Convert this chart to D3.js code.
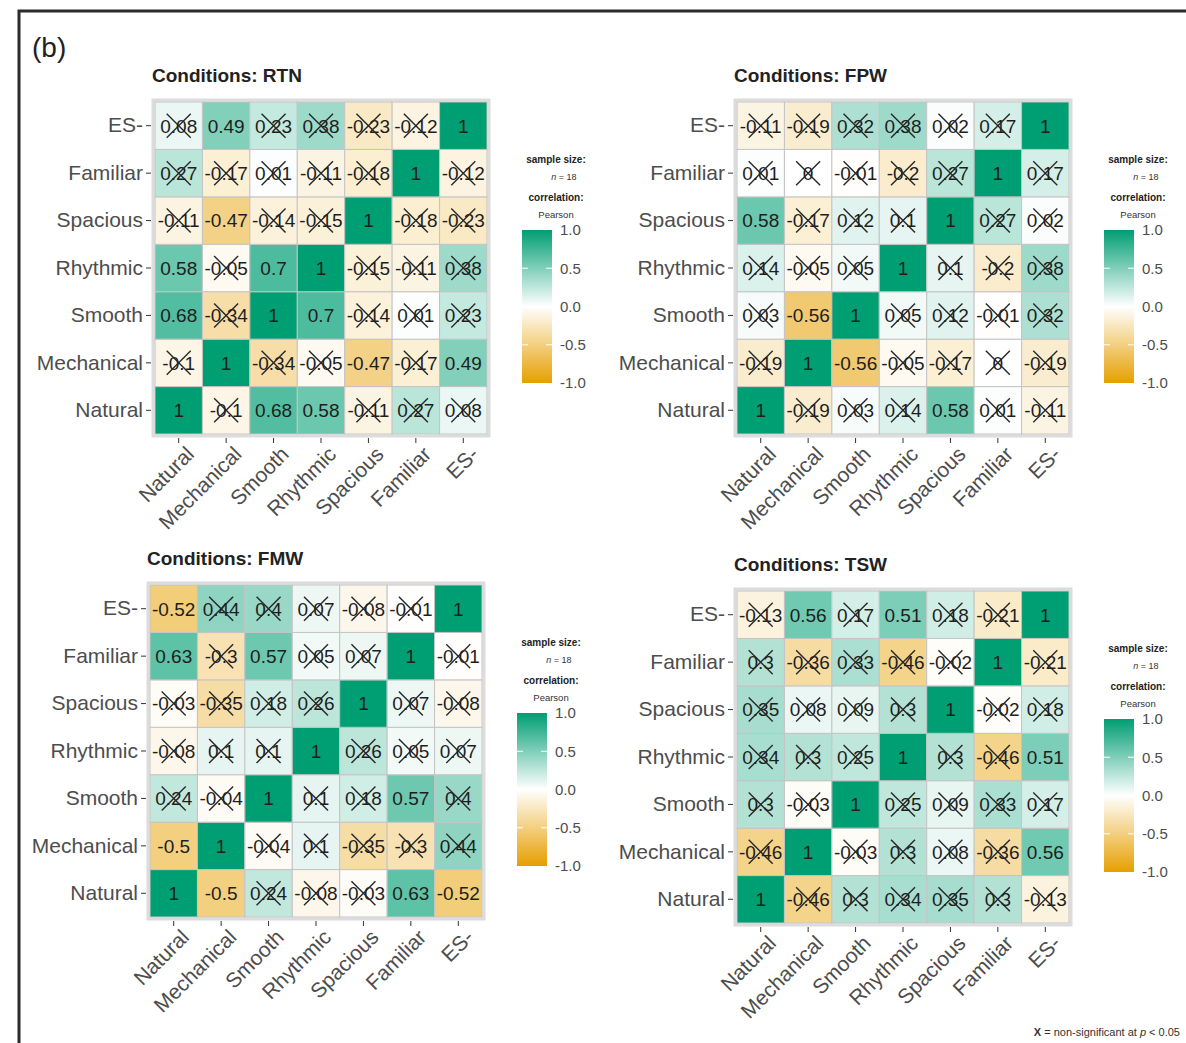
<!DOCTYPE html>
<html>
<head>
<meta charset="utf-8">
<script src="https://cdn.jsdelivr.net/npm/d3@7"></script>
<style>
body { margin: 0; background: #fff; }
text { font-family: "Liberation Sans", Arial, sans-serif; }
</style>
</head>
<body>
<div id="chart"></div>
<script>
// data
const variables = ["Natural", "Mechanical", "Smooth", "Rhythmic", "Spacious", "Familiar", "ES-"]
const conditions = ["RTN", "FPW", "FMW", "TSW"]
const sampleSize = 18
const legendTicks = [1, 0.5, 0, -0.5, -1]

// correlation matrices, rows/cols in the order of `variables`
const rtn = [
  [1, -0.1, 0.68, 0.58, -0.11, 0.27, 0.08],
  [-0.1, 1, -0.34, -0.05, -0.47, -0.17, 0.49],
  [0.68, -0.34, 1, 0.7, -0.14, 0.01, 0.23],
  [0.58, -0.05, 0.7, 1, -0.15, -0.11, 0.38],
  [-0.11, -0.47, -0.14, -0.15, 1, -0.18, -0.23],
  [0.27, -0.17, 0.01, -0.11, -0.18, 1, -0.12],
  [0.08, 0.49, 0.23, 0.38, -0.23, -0.12, 1]
]
const fpw = [
  [1, -0.19, 0.03, 0.14, 0.58, 0.01, -0.11],
  [-0.19, 1, -0.56, -0.05, -0.17, 0, -0.19],
  [0.03, -0.56, 1, 0.05, 0.12, -0.01, 0.32],
  [0.14, -0.05, 0.05, 1, 0.1, -0.2, 0.38],
  [0.58, -0.17, 0.12, 0.1, 1, 0.27, 0.02],
  [0.01, 0, -0.01, -0.2, 0.27, 1, 0.17],
  [-0.11, -0.19, 0.32, 0.38, 0.02, 0.17, 1]
]
const fmw = [
  [1, -0.5, 0.24, -0.08, -0.03, 0.63, -0.52],
  [-0.5, 1, -0.04, 0.1, -0.35, -0.3, 0.44],
  [0.24, -0.04, 1, 0.1, 0.18, 0.57, 0.4],
  [-0.08, 0.1, 0.1, 1, 0.26, 0.05, 0.07],
  [-0.03, -0.35, 0.18, 0.26, 1, 0.07, -0.08],
  [0.63, -0.3, 0.57, 0.05, 0.07, 1, -0.01],
  [-0.52, 0.44, 0.4, 0.07, -0.08, -0.01, 1]
]
const tsw = [
  [1, -0.46, 0.3, 0.34, 0.35, 0.3, -0.13],
  [-0.46, 1, -0.03, 0.3, 0.08, -0.36, 0.56],
  [0.3, -0.03, 1, 0.25, 0.09, 0.33, 0.17],
  [0.34, 0.3, 0.25, 1, 0.3, -0.46, 0.51],
  [0.35, 0.08, 0.09, 0.3, 1, -0.02, 0.18],
  [0.3, -0.36, 0.33, -0.46, -0.02, 1, -0.21],
  [-0.13, 0.56, 0.17, 0.51, 0.18, -0.21, 1]
]
const matrices = [rtn, fpw, fmw, tsw]

// layout
const width = 1186
const height = 1043
const size = 332
const positions = [
  {left: 155, top: 102},
  {left: 737, top: 102},
  {left: 150, top: 585},
  {left: 737, top: 591}
]

const tCrit = 2.12 // two-tailed, df = 16, p = .05
const isSignificant = r => Math.abs(r) >= 1 ||
  Math.abs(r) * Math.sqrt((sampleSize - 2) / (1 - r * r)) >= tCrit
const fmt = r => String(Math.round(r * 100) / 100)

const color = d3.scaleLinear()
  .domain([-1, 0, 1])
  .range(["#E69F00", "#ffffff", "#009E73"])

const svg = d3.select("#chart")
  .append("svg")
    .attr("width", width)
    .attr("height", height)

// gradient for the colour bars
const grad = svg.append("defs").append("linearGradient")
  .attr("id", "corrGrad")
  .attr("x1", 0).attr("y1", 0).attr("x2", 0).attr("y2", 1)
legendTicks.forEach(v => {
  grad.append("stop")
    .attr("offset", (1 - v) / 2)
    .attr("stop-color", color(v))
})

// outer frame
svg.append("path")
  .attr("d", `M19,${height + 5} L19,11 L${width + 5},11`)
  .attr("fill", "none")
  .attr("stroke", "#2b2b2b")
  .attr("stroke-width", 3)

svg.append("text")
  .attr("x", 32).attr("y", 57)
  .attr("font-size", 28)
  .attr("fill", "#222")
  .text("(b)")

const x = d3.scaleBand().domain(variables).range([0, size])
const y = d3.scaleBand().domain(variables).range([size, 0])
const legendY = d3.scaleLinear().domain([-1, 1]).range([153, 0])

conditions.forEach((cond, k) => {
  const pos = positions[k]
  const values = matrices[k]
  const g = svg.append("g")
    .attr("transform", `translate(${pos.left}, ${pos.top})`)

  g.append("text")
    .attr("x", -3).attr("y", -20)
    .attr("font-size", 19)
    .attr("font-weight", "bold")
    .attr("fill", "#222")
    .text("Conditions: " + cond)

  const cells = []
  values.forEach((row, i) => row.forEach((r, j) => {
    cells.push({rowVar: variables[i], colVar: variables[j], r: r})
  }))

  g.append("rect")
    .attr("x", -2).attr("y", -2)
    .attr("width", size + 4).attr("height", size + 4)
    .attr("fill", "none")
    .attr("stroke", "#dcdcdc")
    .attr("stroke-width", 3)

  g.selectAll(".cell")
    .data(cells)
    .join("rect")
      .attr("class", "cell")
      .attr("x", d => x(d.colVar))
      .attr("y", d => y(d.rowVar))
      .attr("width", x.bandwidth())
      .attr("height", y.bandwidth())
      .attr("fill", d => color(d.r))
      .attr("stroke", "#c4c4c4")
      .attr("stroke-width", 1)

  g.selectAll(".lab")
    .data(cells)
    .join("text")
      .attr("class", "lab")
      .attr("x", d => x(d.colVar) + x.bandwidth() / 2)
      .attr("y", d => y(d.rowVar) + y.bandwidth() / 2)
      .attr("dy", "0.36em")
      .attr("text-anchor", "middle")
      .attr("font-size", 19)
      .attr("fill", "#1e1e1e")
      .text(d => fmt(d.r))

  const ns = cells.filter(d => !isSignificant(d.r))
  const crosses = g.selectAll(".ns")
    .data(ns)
    .join("g")
      .attr("class", "ns")
      .attr("transform", d => `translate(${x(d.colVar) + x.bandwidth() / 2}, ${y(d.rowVar) + y.bandwidth() / 2})`)
  crosses.append("line")
    .attr("x1", -12).attr("y1", -12).attr("x2", 12).attr("y2", 12)
  crosses.append("line")
    .attr("x1", -12).attr("y1", 12).attr("x2", 12).attr("y2", -12)
  crosses.selectAll("line")
    .attr("stroke", "#262626")
    .attr("stroke-width", 1.4)

  // axes
  const yAxisGroup = g.append("g")
    .attr("transform", "translate(-4, 0)")
    .call(d3.axisLeft(y).tickSize(5).tickPadding(3))
  const xAxisGroup = g.append("g")
    .attr("transform", `translate(0, ${size + 4})`)
    .call(d3.axisBottom(x).tickSize(5))
  ;[yAxisGroup, xAxisGroup].forEach(ax => {
    ax.select(".domain").remove()
    ax.selectAll(".tick line").attr("stroke", "#333")
    ax.selectAll("text")
      .attr("font-size", 21)
      .attr("fill", "#4d4d4d")
  })
  xAxisGroup.selectAll("text")
    .attr("x", 0).attr("y", 0)
    .attr("dy", "0.71em")
    .attr("text-anchor", "end")
    .attr("transform", "translate(6, 7) rotate(-45)")

  // legend
  const lg = g.append("g").attr("transform", `translate(${size + 35}, 0)`)
  const cx = 34
  lg.append("text").attr("x", cx).attr("y", 61)
    .attr("text-anchor", "middle").attr("font-size", 10).attr("font-weight", "bold")
    .attr("fill", "#222").text("sample size:")
  const nText = lg.append("text").attr("x", cx + 8).attr("y", 78)
    .attr("text-anchor", "middle").attr("font-size", 9).attr("fill", "#333")
  nText.append("tspan").attr("font-style", "italic").text("n")
  nText.append("tspan").text(" = " + sampleSize)
  lg.append("text").attr("x", cx).attr("y", 99)
    .attr("text-anchor", "middle").attr("font-size", 10).attr("font-weight", "bold")
    .attr("fill", "#222").text("correlation:")
  lg.append("text").attr("x", cx).attr("y", 116)
    .attr("text-anchor", "middle").attr("font-size", 9.5)
    .attr("fill", "#333").text("Pearson")

  const bar = lg.append("g").attr("transform", "translate(0, 128)")
  bar.append("rect")
    .attr("width", 30).attr("height", 153)
    .attr("fill", "url(#corrGrad)")
  bar.selectAll(".tk")
    .data(legendTicks)
    .join("g")
      .attr("class", "tk")
      .each(function (v) {
        const t = d3.select(this)
        if (v !== 1 && v !== -1) {
          t.append("line").attr("x1", 0).attr("x2", 6)
            .attr("y1", legendY(v)).attr("y2", legendY(v))
            .attr("stroke", "#fff").attr("stroke-width", 1)
          t.append("line").attr("x1", 24).attr("x2", 30)
            .attr("y1", legendY(v)).attr("y2", legendY(v))
            .attr("stroke", "#fff").attr("stroke-width", 1)
        }
        t.append("text")
          .attr("x", 38).attr("y", legendY(v))
          .attr("dy", "0.36em")
          .attr("font-size", 15)
          .attr("fill", "#4d4d4d")
          .text(d3.format(".1f")(v).replace("−", "-"))
      })
})

// footnote
const foot = svg.append("text")
  .attr("x", 1180).attr("y", 1036)
  .attr("text-anchor", "end")
  .attr("font-size", 11)
  .attr("fill", "#333")
foot.append("tspan").attr("font-weight", "bold").text("X")
foot.append("tspan").text(" = non-significant at ")
foot.append("tspan").attr("font-style", "italic").text("p")
foot.append("tspan").text(" < 0.05")
</script>
</body>
</html>
